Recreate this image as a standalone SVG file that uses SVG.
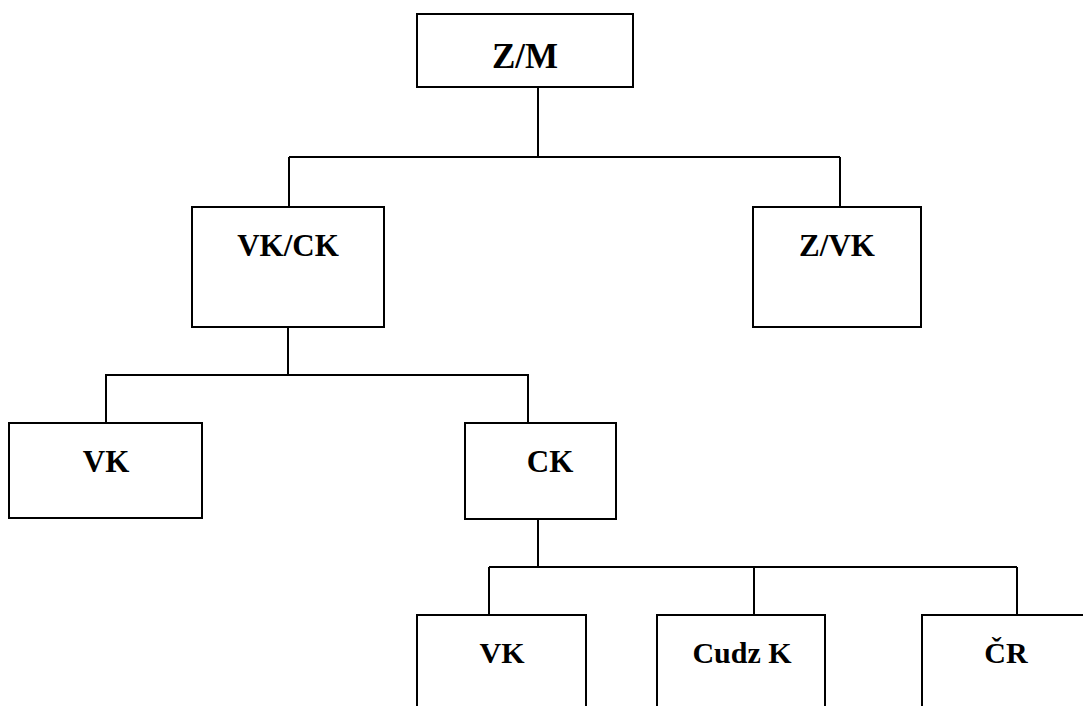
<svg xmlns="http://www.w3.org/2000/svg" width="1083" height="706" viewBox="0 0 1083 706">
<style>
.box{fill:#fff;stroke:#000;stroke-width:2}
.lbl{font-family:"Liberation Serif","Times New Roman",serif;font-weight:bold;font-size:31px;text-anchor:middle;fill:#000}
.con{fill:none;stroke:#000;stroke-width:2}
</style>
<rect width="1083" height="706" fill="#fff"/>
<g id="connectors" class="con">
<path d="M538 87V157M289 157H840M289 157V207M840 157V207"/>
<path d="M288 327V375M105 375H529M106 375V423M528 375V423"/>
<path d="M538 519V567M489 567H1017M489 567V615M754 567V615M1017 567V615"/>
</g>
<g id="n_zm"><rect class="box" x="417" y="14" width="216" height="73"/><text class="lbl" x="525" y="68" style="font-size:35px">Z/M</text></g>
<g id="n_vkck"><rect class="box" x="192" y="207" width="192" height="120"/><text class="lbl" x="288" y="256">VK/CK</text></g>
<g id="n_zvk"><rect class="box" x="753" y="207" width="168" height="120"/><text class="lbl" x="837" y="256">Z/VK</text></g>
<g id="n_vk1"><rect class="box" x="9" y="423" width="193" height="95"/><text class="lbl" x="106" y="472">VK</text></g>
<g id="n_ck"><rect class="box" x="465" y="423" width="151" height="96"/><text class="lbl" x="550" y="472">CK</text></g>
<g id="n_vk2"><rect class="box" x="417" y="615" width="169" height="100"/><text class="lbl" x="502" y="663" style="font-size:30px">VK</text></g>
<g id="n_cudz"><rect class="box" x="657" y="615" width="168" height="100"/><text class="lbl" x="742" y="663" style="font-size:30px">Cudz K</text></g>
<g id="n_cr"><rect class="box" x="922" y="615" width="170" height="100"/><text class="lbl" x="1006" y="663" style="font-size:30px">ČR</text></g>
</svg>
